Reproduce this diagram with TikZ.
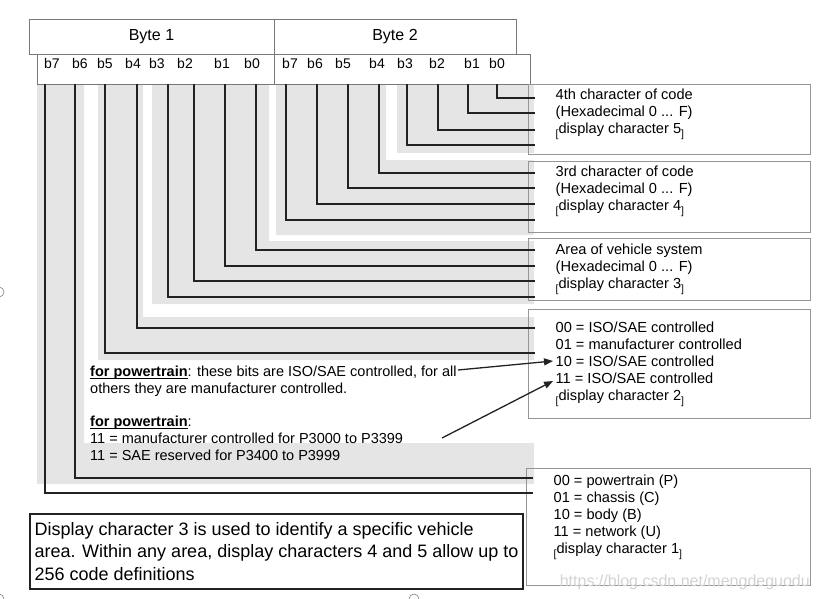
\documentclass[tikz,border=0pt]{standalone}
\usepackage{fontspec}
\setmainfont{Liberation Sans}
\usetikzlibrary{arrows.meta,positioning}
\definecolor{sc}{RGB}{229,229,229}
\definecolor{bc}{RGB}{150,150,150}
\definecolor{hc}{RGB}{120,120,120}
\definecolor{wc}{RGB}{34,34,34}
\definecolor{mc}{RGB}{210,210,210}
\newcommand{\dch}[1]{\raisebox{-4pt}{\fontsize{10.5}{10}\selectfont[}display character #1\raisebox{-4pt}{\fontsize{10.5}{10}\selectfont]}}
\newcommand{\pwt}{\underline{\smash{\textbf{for powertrain}}}}
\tikzset{hb/.style={draw=hc,line width=.9pt,inner sep=0pt,font=\fontsize{16}{18}\selectfont},
 rb/.style={draw=bc,line width=1pt,inner sep=0pt,minimum width=282pt},
 txt/.style={align=left,inner sep=0pt,font=\fontsize{14.6}{17}\selectfont},
 note/.style={txt,font=\fontsize{14.5}{17}\selectfont},
 bit/.style={inner sep=0pt,font=\fontsize{14}{17}\selectfont},
 wire/.style={draw=wc,line width=1.8pt},
 arr/.style={-{Triangle[length=9pt,width=7pt]},line width=1.3pt,draw=wc},
 hdl/.style={draw=gray,fill=white,line width=.6pt}}
\begin{document}
\begin{tikzpicture}[x=1pt,y=-1pt]
\useasboundingbox (0,0) rectangle (824,598);
\fill[sc] (397,84) rectangle (534,153);
\fill[sc] (276,84) -- (386,84) -- (386,160) -- (534,160) -- (534,235) -- (276,235) -- cycle;
\fill[sc] (152,84) -- (269,84) -- (269,241) -- (534,241) -- (534,304) -- (152,304) -- cycle;
\fill[sc] (98,84) -- (143,84) -- (143,317) -- (534,317) -- (534,360) -- (98,360) -- cycle;
\fill[sc] (37,84) -- (84,84) -- (84,443) -- (534,443) -- (534,484) -- (37,484) -- cycle;
\node[hb,minimum width=245pt,minimum height=35pt] (y1) at (151.5,36.5) {Byte 1};
\node[hb,minimum width=242pt,minimum height=35pt] (y2) at (395,36.5) {Byte 2};
\node[hb,minimum width=493pt,minimum height=30pt] (bits) at (283.5,69) {};
\draw[draw=hc,line width=.9pt] (y1.south east) -- (y1.south east |- bits.south);
\foreach \n/\x in {7/52,6/80,5/105,4/133,3/157,2/185,1/222,0/252}
  \node[bit] (u\n) at (\x,63) {b\n};
\foreach \n/\x in {7/290,6/315,5/343,4/377,3/405,2/437,1/472,0/497}
  \node[bit] (v\n) at (\x,63) {b\n};
\node[rb,minimum height=70pt] (bA) at (669,119) {};
\node[rb,minimum height=71pt] (bB) at (669,196.5) {};
\node[rb,minimum height=62pt] (bC) at (669,269) {};
\node[rb,minimum height=109pt] (bD) at (669,363.5) {};
\node[rb,minimum width=284pt,minimum height=117pt] (bE) at (668,526.5) {};
\node[txt,below right=5pt and 28pt of bA.north west] (tA) {4th character of code\\(Hexadecimal 0 ... F)\\\dch{5}};
\node[txt,below right=5pt and 28pt of bB.north west] (tB) {3rd character of code\\(Hexadecimal 0 ... F)\\\dch{4}};
\node[txt,below right=6pt and 28pt of bC.north west] (tC) {Area of vehicle system\\(Hexadecimal 0 ... F)\\\dch{3}};
\node[txt,below right=13pt and 28pt of bD.north west] (tD) {00 = ISO/SAE controlled\\01 = manufacturer controlled\\10 = ISO/SAE controlled\\11 = ISO/SAE controlled\\\dch{2}};
\node[txt,below right=7pt and 28pt of bE.north west] (tE) {00 = powertrain (P)\\01 = chassis (C)\\10 = body (B)\\11 = network (U)\\\dch{1}};
\foreach \x/\y/\b in {45/493/bE,75/478/bE,105/353/bD,137/328/bD,168/297/bC,194/281/bC,225/266/bC,256/250/bC,
  286/220/bB,317/204/bB,348/188/bB,379/173/bB,407/145/bA,438/130/bA,468/113/bA,497/98/bA}
  \draw[wire] (bits.south -| \x,0) |- (\b.west |- 0,\y) -- ++(7,0);
\node[note,anchor=north west] (nP) at (90,366) {\pwt: these bits are ISO/SAE controlled, for all\\others they are manufacturer controlled.};
\node[note,anchor=north west] (nQ) at (90,419) {\pwt:\\11 = manufacturer controlled for P3000 to P3399\\11 = SAE reserved for P3400 to P3999};
\coordinate (pa) at (458,370);
\coordinate (pb) at (442,438);
\coordinate (qa) at (553,361);
\coordinate (qb) at (553,381);
\draw[arr] (pa) -- (qa);
\draw[arr] (pb) -- (qb);
\node[draw=wc,line width=1.5pt,inner xsep=3pt,inner ysep=0pt,minimum width=493pt,minimum height=75pt,align=left,font=\fontsize{18}{22.5}\selectfont] (bX) at (276.5,551.5) {Display character 3 is used to identify a specific vehicle\\area. Within any area, display characters 4 and 5 allow up to\\256 code definitions};
\node[inner sep=0pt,anchor=east,text=mc,font=\fontsize{16}{16}\selectfont] (wm) at (810,582) {https://blog.csdn.net/mengdeguodu};
\draw[hdl] (-1,292) circle (5pt);
\draw[hdl] (-1,599) circle (5pt);
\draw[hdl] (414,599) circle (5pt);
\end{tikzpicture}
\end{document}
